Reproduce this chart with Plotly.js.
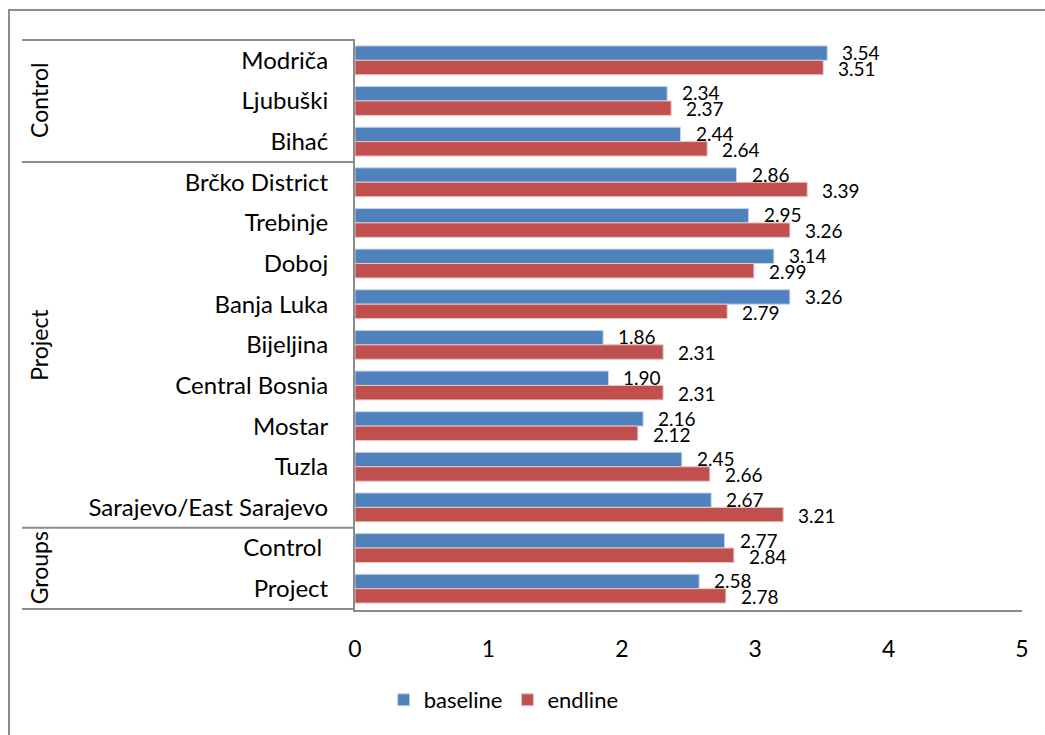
<!DOCTYPE html>
<html>
<head>
<meta charset="utf-8">
<script src="https://cdn.plot.ly/plotly-3.0.1.min.js"></script>
<style>
html,body{margin:0;padding:0;background:#fff;}
#chart{width:1045px;height:735px;}
</style>
</head>
<body>
<div id="chart"></div>
<script>
const categories = ["Modriča","Ljubuški","Bihać","Brčko District","Trebinje","Doboj","Banja Luka","Bijeljina","Central Bosnia","Mostar","Tuzla","Sarajevo/East Sarajevo","Control ","Project"];
const baseline = [3.54,2.34,2.44,2.86,2.95,3.14,3.26,1.86,1.90,2.16,2.45,2.67,2.77,2.58];
const endline  = [3.51,2.37,2.64,3.39,3.26,2.99,2.79,2.31,2.31,2.12,2.66,3.21,2.84,2.78];
const groupNames = ["Control","Project","Groups"];
const groupCenters = [1,7,12.5];
const groupBounds = [-0.5,2.5,11.5,13.5];
const seriesNames = ["baseline","endline"];
const xTicks = [0,1,2,3,4,5];

const FONT = "Lato, 'Open Sans', sans-serif";
const W=1045,H=735,L=355,R=23,T=39,B=125;
const pw=W-L-R, ph=H-T-B;
const px2x = p => (p-L)/pw;
const py2y = p => 1-(p-T)/ph;
const grey = "#8c8c8c";

const traces = [
 {type:"bar",orientation:"h",name:seriesNames[0],y:categories,x:baseline,
  marker:{color:"#4F81BD",line:{color:"#c6d5ea",width:1}},hoverinfo:"x+y"},
 {type:"bar",orientation:"h",name:seriesNames[1],y:categories,x:endline,
  marker:{color:"#C0504D",line:{color:"#e7c6c5",width:1}},hoverinfo:"x+y"}
];

const shapes = [];
groupBounds.forEach(b=>{
  shapes.push({type:"line",xref:"paper",yref:"y",x0:px2x(22),x1:0,y0:b,y1:b,line:{color:grey,width:2}});
});
shapes.push({type:"rect",xref:"paper",yref:"paper",x0:px2x(9),x1:px2x(1060),y0:py2y(10),y1:py2y(760),line:{color:grey,width:2},layer:"below"});

const annotations = groupNames.map((g,i)=>({
  text:g,xref:"paper",yref:"y",x:px2x(39),y:groupCenters[i],textangle:-90,showarrow:false,
  font:{family:FONT,size:23,color:"#000"},xanchor:"center",yanchor:"middle"
}));
[baseline,endline].forEach((vals,s)=>{
  vals.forEach((v,i)=>{
    annotations.push({text:v.toFixed(2),xref:"x",yref:"y",x:v,y:categories[i],showarrow:false,
      xanchor:"left",yanchor:"middle",xshift:14,yshift:s===0?8:-8,borderpad:0,
      font:{family:FONT,size:19,color:"#000"}});
  });
});

const layout = {
  width:W,height:H,margin:{l:L,r:R,t:T,b:B},
  paper_bgcolor:"#fff",plot_bgcolor:"#fff",
  barmode:"group",bargap:0.29,bargroupgap:0,
  showlegend:true,
  legend:{orientation:"h",xref:"container",yref:"container",x:0.482,xanchor:"center",y:1-700/735,yanchor:"middle",
    font:{family:FONT,size:22,color:"#000"},itemwidth:30},
  xaxis:{range:[0,5],tickvals:xTicks,ticktext:xTicks.map(String),showgrid:false,zeroline:false,
    showline:true,linecolor:grey,linewidth:2,ticks:"",ticklabelstandoff:17,
    tickfont:{family:FONT,size:23,color:"#000"},fixedrange:true},
  yaxis:{type:"category",autorange:"reversed",showgrid:false,zeroline:false,showline:true,linecolor:grey,linewidth:2,
    ticks:"",ticklabelstandoff:20,tickfont:{family:FONT,size:24,color:"#000"},fixedrange:true},
  shapes:shapes,annotations:annotations,
  font:{family:FONT}
};

Plotly.newPlot("chart",traces,layout,{displayModeBar:false,staticPlot:true});
</script>
</body>
</html>
